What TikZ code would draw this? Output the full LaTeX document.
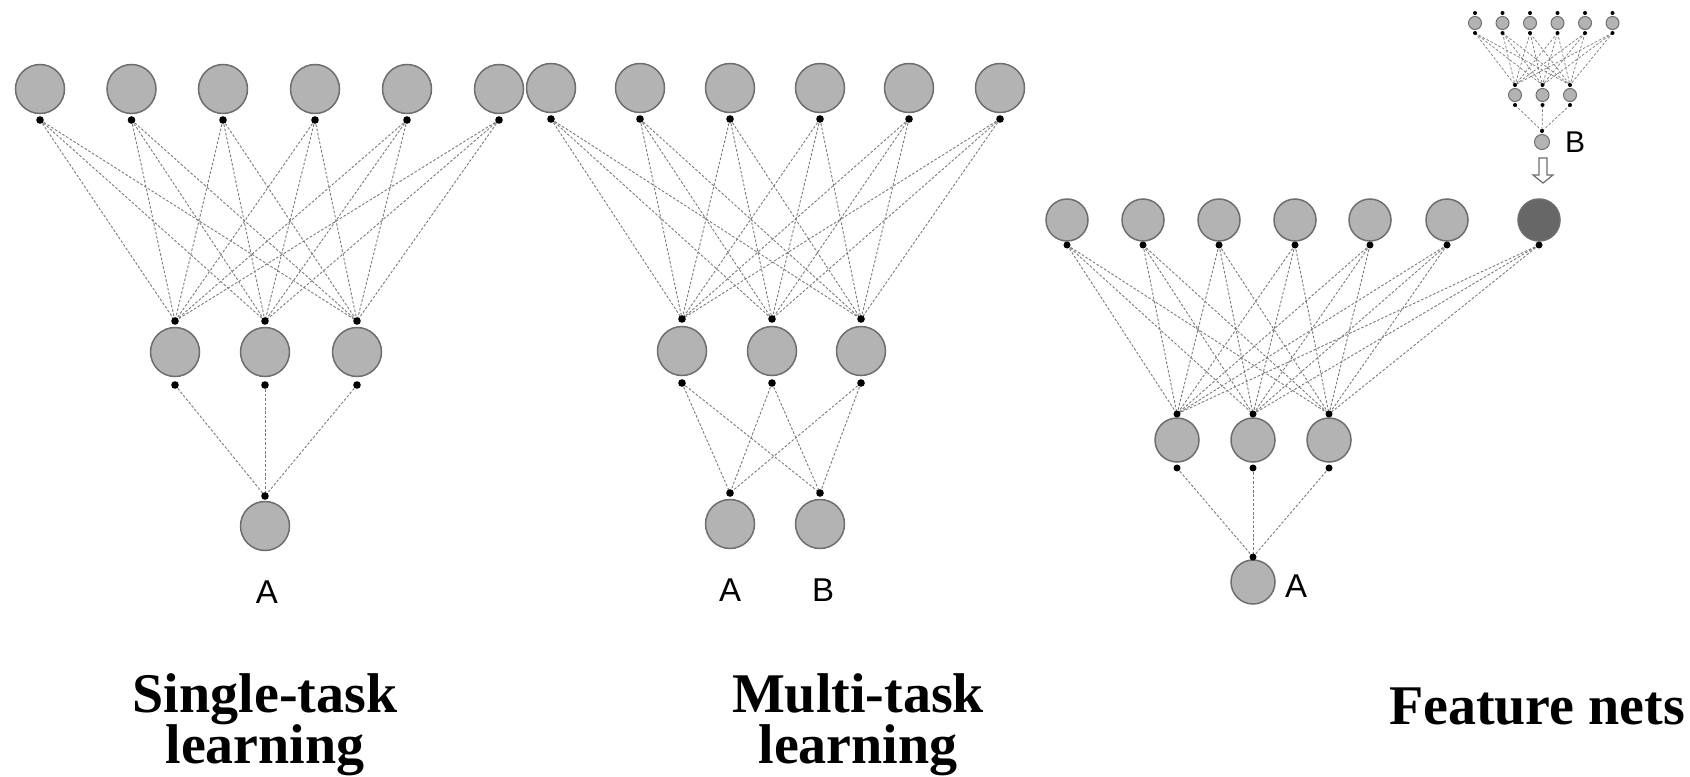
\documentclass[tikz,border=0pt]{standalone}
\usepackage{fontspec}
\setmainfont{Liberation Serif}
\newfontfamily\letterfont{Liberation Sans}
\pgfdeclarelayer{links}
\pgfsetlayers{links,main}
\definecolor{cfill}{HTML}{B3B3B3}
\definecolor{cline}{HTML}{6E6E6E}
\definecolor{cdark}{HTML}{676767}
\definecolor{lgray}{HTML}{7A7A7A}
\begin{document}
\begin{tikzpicture}[x=0.5pt,y=-0.5pt,
  unit/.style={circle,draw=cline,line width=0.75pt,fill=cfill,inner sep=0pt,minimum size=#1},
  unit/.default=24.5pt,
  tap/.style={circle,fill=black,inner sep=0pt,minimum size=#1},
  tap/.default=3.8pt,
  link/.style={draw=lgray,line width=0.45pt,dash pattern=on 1.3pt off 0.9pt},
  letter/.style={font=\letterfont\fontsize{16.5}{18}\selectfont},
  smallletter/.style={font=\letterfont\fontsize{15}{17}\selectfont},
  caption/.style={font=\bfseries\fontsize{28}{30}\selectfont,anchor=base,inner sep=0pt},
  hollow/.style={draw=cline,line width=0.6pt,fill=white}
]
\useasboundingbox (0,0) rectangle (1690,776);

% ---------- single-task network ----------
\foreach \x [count=\i] in {40,131.5,223,315,407,499} {
  \node[unit] (s1t\i) at (\x,89) {};
  \node[tap] (s1tb\i) at (\x,120) {};
}
\foreach \x [count=\j] in {175,265,357} {
  \node[unit] (s1m\j) at (\x,352) {};
  \node[tap] (s1ma\j) at (\x,321) {};
  \node[tap] (s1mb\j) at (\x,385) {};
}
\node[unit] (s1o) at (265,526) {};
\node[tap] (s1oa) at (265,496) {};
\node[letter] (s1lab) at (267,592) {A};

% ---------- multi-task network ----------
\foreach \x [count=\i] in {551,640,730,820,909,1000} {
  \node[unit] (s2t\i) at (\x,88) {};
  \node[tap] (s2tb\i) at (\x,119) {};
}
\foreach \x [count=\j] in {682,772,861} {
  \node[unit] (s2m\j) at (\x,351) {};
  \node[tap] (s2ma\j) at (\x,319) {};
  \node[tap] (s2mb\j) at (\x,383) {};
}
\node[unit] (s2oA) at (730,524) {};
\node[tap] (s2oAa) at (730,493) {};
\node[unit] (s2oB) at (820,524) {};
\node[tap] (s2oBa) at (820,493) {};
\node[letter] (s2labA) at (730,590) {A};
\node[letter] (s2labB) at (823,590) {B};

% ---------- feature-net network ----------
\foreach \x [count=\i] in {1067,1143,1219,1295,1370,1447} {
  \node[unit=21pt] (s3t\i) at (\x,220) {};
  \node[tap=3.5pt] (s3tb\i) at (\x,245) {};
}
\node[unit=21pt,fill=cdark] (s3t7) at (1539,220) {};
\node[tap=3.5pt] (s3tb7) at (1539,245) {};
\foreach \x [count=\j] in {1177,1253,1329} {
  \node[unit=22pt] (s3m\j) at (\x,440) {};
  \node[tap=3.5pt] (s3ma\j) at (\x,414) {};
  \node[tap=3.5pt] (s3mb\j) at (\x,468) {};
}
\node[unit=22pt] (s3o) at (1253,582) {};
\node[tap=3.5pt] (s3oa) at (1253,557) {};
\node[letter] (s3lab) at (1296,586) {A};

% small network feeding the extra input
\foreach \i in {1,...,6} {
  \pgfmathsetmacro\xx{1475+27.5*(\i-1)}
  \node[unit=6.5pt,line width=0.5pt] (bt\i) at (\xx,23) {};
  \node[tap=2pt] (bta\i) at (\xx,13) {};
  \node[tap=2pt] (btb\i) at (\xx,33) {};
}
\foreach \x [count=\j] in {1515,1542.5,1570} {
  \node[unit=6.5pt,line width=0.5pt] (bm\j) at (\x,95) {};
  \node[tap=2pt] (bma\j) at (\x,85) {};
  \node[tap=2pt] (bmb\j) at (\x,105) {};
}
\node[unit=7.5pt,line width=0.5pt] (bo) at (1542,142) {};
\node[tap=2pt] (boa) at (1542,131) {};
\node[smallletter] (blab) at (1575,142) {B};

% hollow arrow from the small network to the dark input
\draw[hollow] (1539,158) -- (1547,158) -- (1547,175) -- (1553,175) -- (1543,183)
  -- (1533,175) -- (1539,175) -- cycle;

% ---------- connections ----------
\begin{pgfonlayer}{links}
\foreach \i in {1,...,6} \foreach \j in {1,2,3} {
  \draw[link] (s1tb\i.center) -- (s1ma\j.center);
  \draw[link] (s2tb\i.center) -- (s2ma\j.center);
  \draw[link,line width=0.35pt] (btb\i.center) -- (bma\j.center);
}
\foreach \i in {1,...,7} \foreach \j in {1,2,3}
  \draw[link] (s3tb\i.center) -- (s3ma\j.center);
\foreach \j in {1,2,3} {
  \draw[link] (s1mb\j.center) -- (s1oa.center);
  \draw[link] (s2mb\j.center) -- (s2oAa.center);
  \draw[link] (s2mb\j.center) -- (s2oBa.center);
  \draw[link] (s3mb\j.center) -- (s3oa.center);
  \draw[link,line width=0.35pt] (bmb\j.center) -- (boa.center);
}
\end{pgfonlayer}

% ---------- captions ----------
\node[caption] (cap1a) at (265,712) {Single-task};
\node[caption] (cap1b) at (265,763) {learning};
\node[caption] (cap2a) at (858,712) {Multi-task};
\node[caption] (cap2b) at (858,763) {learning};
\node[caption] (cap3) at (1537,724) {Feature nets};
\end{tikzpicture}
\end{document}
